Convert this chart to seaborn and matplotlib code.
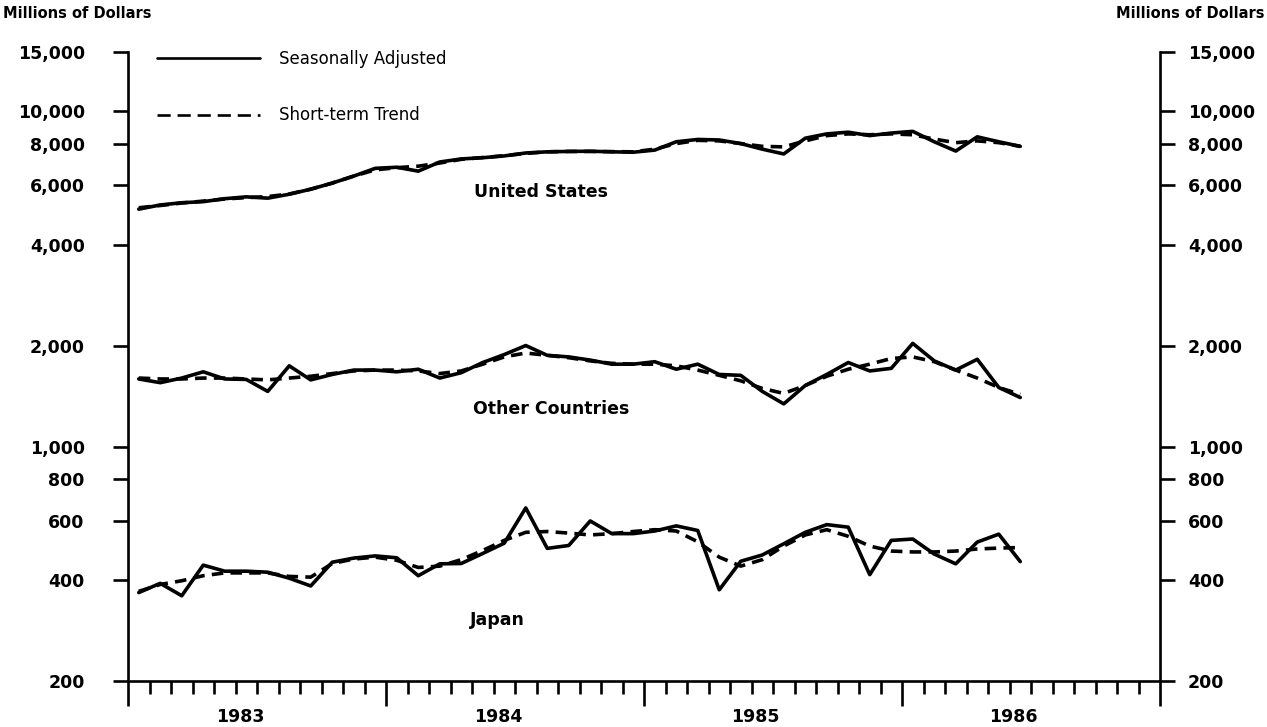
import numpy as np
import pandas as pd
import matplotlib
matplotlib.use('Agg')
import matplotlib.pyplot as plt
from matplotlib.lines import Line2D
from matplotlib.ticker import FixedLocator, FixedFormatter, NullLocator
import seaborn as sns

# monthly data, Jan 1983 - Jun 1986 (millions of dollars)
us_adjusted = [5100, 5250, 5330, 5370, 5480, 5550, 5500, 5650, 5850, 6100,
               6400, 6750, 6800, 6620, 7050, 7200, 7260, 7350, 7500, 7560,
               7580, 7590, 7560, 7540, 7650, 8100, 8230, 8200, 8000, 7700,
               7450, 8300, 8550, 8650, 8450, 8600, 8700, 8100, 7600, 8380,
               8100, 7850]
us_trend = [5150, 5230, 5320, 5390, 5470, 5520, 5560, 5660, 5850, 6100,
            6400, 6680, 6780, 6850, 7000, 7180, 7270, 7360, 7480, 7560,
            7580, 7580, 7570, 7560, 7700, 8000, 8180, 8150, 8000, 7850,
            7820, 8150, 8450, 8550, 8500, 8550, 8500, 8250, 8050, 8150,
            8050, 7850]
other_adjusted = [1590, 1550, 1600, 1670, 1590, 1585, 1460, 1740, 1580, 1640,
                  1690, 1690, 1670, 1700, 1600, 1660, 1780, 1880, 2000, 1870,
                  1850, 1810, 1760, 1760, 1790, 1700, 1760, 1640, 1630, 1460,
                  1340, 1520, 1640, 1780, 1680, 1710, 2030, 1800, 1690, 1820,
                  1500, 1400]
other_trend = [1600, 1590, 1590, 1600, 1600, 1590, 1580, 1600, 1620, 1650,
               1680, 1690, 1690, 1680, 1650, 1680, 1760, 1850, 1900, 1870,
               1840, 1800, 1770, 1760, 1760, 1740, 1690, 1630, 1570, 1490,
               1440, 1520, 1620, 1700, 1760, 1830, 1850, 1790, 1690, 1600,
               1500, 1430]
japan_adjusted = [367, 391, 359, 443, 425, 425, 422, 405, 384, 452,
                  465, 472, 466, 412, 447, 448, 480, 515, 656, 497,
                  507, 600, 550, 550, 560, 580, 562, 374, 455, 475,
                  513, 555, 585, 575, 415, 525, 530, 478, 447, 519,
                  548, 454]
japan_trend = [370, 388, 398, 412, 420, 420, 420, 410, 408, 448,
               462, 468, 458, 436, 440, 460, 490, 525, 555, 558,
               552, 545, 550, 558, 565, 560, 520, 468, 440, 460,
               505, 545, 565, 540, 505, 488, 485, 485, 488, 495,
               498, 500]

years = ['1983', '1984', '1985', '1986']
y_ticks = [200, 400, 600, 800, 1000, 2000, 4000, 6000, 8000, 10000, 15000]
y_labels = ['{:,}'.format(v) for v in y_ticks]

# long table for seaborn
month = np.arange(len(us_adjusted)) + 0.5
rows = []
for region, sa, tr in [('United States', us_adjusted, us_trend),
                       ('Other Countries', other_adjusted, other_trend),
                       ('Japan', japan_adjusted, japan_trend)]:
    for m, a, t in zip(month, sa, tr):
        rows.append((region, 'Seasonally Adjusted', m, a))
        rows.append((region, 'Short-term Trend', m, t))
df = pd.DataFrame(rows, columns=['region', 'kind', 'month', 'value'])

sns.set_style('ticks')
plt.rcParams['font.family'] = ['DejaVu Sans']
plt.rcParams['text.color'] = 'black'
plt.rcParams['xtick.color'] = 'black'
plt.rcParams['ytick.color'] = 'black'
plt.rcParams['xtick.labelcolor'] = 'black'
plt.rcParams['ytick.labelcolor'] = 'black'

fig = plt.figure(figsize=(12.67, 7.27), dpi=100)
ax = fig.add_axes([128 / 1267, 1 - 681 / 727, 1032 / 1267, 629 / 727])

dash = (3.2, 2.0)
sns.lineplot(data=df, x='month', y='value', units='region', style='kind',
             estimator=None, color='black', linewidth=2.6,
             dashes={'Seasonally Adjusted': '', 'Short-term Trend': dash},
             legend=False, ax=ax)

ax.set_yscale('log')
ax.set_ylim(200, 15000)
ax.set_xlim(0, 48)
ax.yaxis.set_major_locator(FixedLocator(y_ticks))
ax.yaxis.set_major_formatter(FixedFormatter(y_labels))
ax.yaxis.set_minor_locator(NullLocator())

# year boundaries long ticks, monthly short ticks
ax.set_xticks([0, 12, 24, 36, 48])
ax.set_xticklabels([])
ax.set_xticks(np.arange(0, 49), minor=True)
ax.set_xlabel('')
ax.set_ylabel('')

# year names, a little left of mid-year as in the original
for k, yr in enumerate(years):
    ax.text(5.2 + 12 * k, -0.058, yr, transform=ax.get_xaxis_transform(),
            ha='center', va='center', fontsize=12.5, fontweight='bold')

for side in ['left', 'right', 'bottom']:
    ax.spines[side].set_linewidth(1.9)
    ax.spines[side].set_color('black')
ax.spines['top'].set_visible(False)

ax.tick_params(axis='x', which='major', direction='out', length=18, width=1.9)
ax.tick_params(axis='x', which='minor', direction='out', length=9, width=1.9)
ax.tick_params(axis='y', which='major', direction='out', length=11, width=1.9,
               left=True, right=True, labelleft=True, labelright=True,
               labelsize=12.5, pad=9)
for tk in ax.yaxis.get_major_ticks():
    tk.label1.set_fontweight('bold')
    tk.label2.set_fontweight('bold')
    tk.label1.set_x(-0.015)

# series names
ax.text(19.2, 5720, 'United States', ha='center', va='center',
        fontsize=12.5, fontweight='bold')
ax.text(19.7, 1292, 'Other Countries', ha='center', va='center',
        fontsize=12.5, fontweight='bold')
ax.text(17.2, 304, 'Japan', ha='center', va='center',
        fontsize=12.5, fontweight='bold')

# legend
handles = [Line2D([], [], color='black', linewidth=1.9),
           Line2D([], [], color='black', linewidth=1.9, dashes=(5, 2.6))]
ax.legend(handles, ['Seasonally Adjusted', 'Short-term Trend'],
          loc='upper left', bbox_to_anchor=(0.028, 1.003), frameon=False,
          fontsize=12, handlelength=6.2, handletextpad=1.1,
          labelspacing=2.3, borderpad=0, borderaxespad=0)

# axis unit captions
fig.text(3 / 1267, 1 - 13 / 727, 'Millions of Dollars', ha='left',
         va='center', fontsize=10.5, fontweight='bold')
fig.text(1264 / 1267, 1 - 13 / 727, 'Millions of Dollars', ha='right',
         va='center', fontsize=10.5, fontweight='bold')

fig.savefig('out.png', dpi=100, facecolor='white')
